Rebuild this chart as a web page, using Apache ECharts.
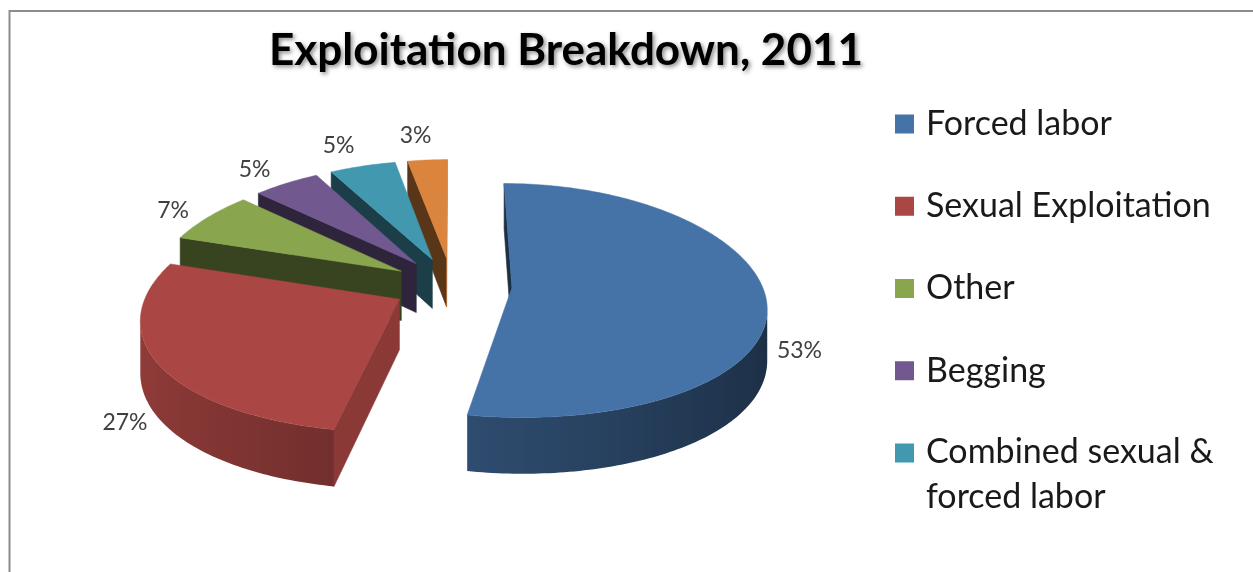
<!DOCTYPE html>
<html>
<head>
<meta charset="utf-8">
<title>Exploitation Breakdown, 2011</title>
<script src="https://cdn.jsdelivr.net/npm/echarts@6/dist/echarts.min.js"></script>
<style>
  html, body { margin: 0; padding: 0; background: #ffffff; }
  #chart { width: 1253px; height: 572px; }
</style>
</head>
<body>
<div id="chart"></div>
<script>
// ---- data -------------------------------------------------------------
const categories = ['Forced labor', 'Sexual Exploitation', 'Other', 'Begging',
                    'Combined sexual & forced labor', 'Unspecified'];
const shares = [53, 27, 7, 5, 5, 3];           // percent of cases
const legendNames = categories.slice(0, 5);    // entries that fit in the legend box
const legendLines = [['Forced labor'], ['Sexual Exploitation'], ['Other'], ['Begging'],
                     ['Combined sexual &', 'forced labor']];
const sliceColors = ['#4572A7', '#AA4643', '#89A54E', '#71588F', '#4198AF', '#DB843D'];

// ---- 3D pie geometry (screen pixels / unit radius) -------------------
const PIE = {
  cx: 452, cy: 285,        // projected centre of the un-exploded pie
  r: 250,                  // radius in pixels
  sinE: 0.46, cosE: 0.888, // viewing elevation
  depth: 0.225,            // thickness relative to radius
  explode: 0.24,           // slice offset relative to radius
  px: 0.15, py: 0.11       // perspective strength (horizontal / vertical)
};
const LABEL_SIZE = 23;
const LEGEND_SIZE = 34;
const LEGEND_LINE = 44;

const total = shares.reduce((a, b) => a + b, 0);
const startAngles = [];
(function () {
  let acc = 0;
  shares.forEach(v => { startAngles.push(acc / total * 2 * Math.PI); acc += v; });
})();

// back-to-front drawing order of slices
const depthRank = (function () {
  const keys = shares.map((v, i) => {
    const am = startAngles[i] + v / total * Math.PI;
    return -Math.cos(am) * (PIE.explode + 0.5);
  });
  const order = keys.map((k, i) => i).sort((a, b) => keys[a] - keys[b]);
  const rank = [];
  order.forEach((idx, r) => { rank[idx] = r; });
  return rank;
})();

function proj(X, Z, Y) {
  const fx = 1 / (1 - PIE.px * Z);
  const fy = 1 / (1 - PIE.py * Z);
  return [PIE.cx + PIE.r * X * fx, PIE.cy + PIE.r * (Z * PIE.sinE - Y * PIE.cosE) * fy];
}

function signedArea(pts) {
  let s = 0;
  for (let k = 0; k < pts.length; k++) {
    const p = pts[k], q = pts[(k + 1) % pts.length];
    s += p[0] * q[1] - q[0] * p[1];
  }
  return s;
}

function shade(hex, f) {
  const n = parseInt(hex.slice(1), 16);
  const c = [(n >> 16) & 255, (n >> 8) & 255, n & 255]
    .map(v => Math.max(0, Math.min(255, Math.round(v * f))));
  return 'rgb(' + c.join(',') + ')';
}

// brightness of the curved wall at angle t (light from the left)
const wallLight = t => 0.63 - 0.22 * Math.sin(t);

function renderSlice(i, value) {
  const base = sliceColors[i];
  const a0 = startAngles[i];
  const sweep = value / total * 2 * Math.PI;
  const a1 = a0 + sweep;
  const am = a0 + sweep / 2;
  const ox = PIE.explode * Math.sin(am);
  const oz = -PIE.explode * Math.cos(am);
  const H = -PIE.depth;
  const pt = (t, rr, Y) => proj(ox + rr * Math.sin(t), oz - rr * Math.cos(t), Y);
  const zBase = depthRank[i] * 1000;
  const kids = [];

  const face = (pts, color, z2) => {
    if (signedArea(pts) < 0) {
      kids.push({ type: 'polygon', shape: { points: pts },
                  style: { fill: color, stroke: color, lineWidth: 0.6 }, z2: z2 });
    }
  };

  // radial side faces
  face([pt(a0, 0, 0), pt(a0, 1, 0), pt(a0, 1, H), pt(a0, 0, H)],
       shade(base, -Math.cos(a0) > 0 ? 0.82 : 0.41), zBase + 1);
  face([pt(a1, 1, 0), pt(a1, 0, 0), pt(a1, 0, H), pt(a1, 1, H)],
       shade(base, Math.cos(a1) > 0 ? 0.82 : 0.41), zBase + 1);

  // curved outer wall: visible runs drawn as single shaded polygons
  const n = Math.max(2, Math.ceil(sweep / (Math.PI / 180)));
  const ts = [];
  for (let k = 0; k <= n; k++) ts.push(a0 + sweep * k / n);
  const vis = [];
  for (let k = 0; k < n; k++) {
    vis.push(signedArea([pt(ts[k], 1, 0), pt(ts[k + 1], 1, 0), pt(ts[k + 1], 1, H), pt(ts[k], 1, H)]) < 0);
  }
  let k = 0;
  while (k < n) {
    if (!vis[k]) { k++; continue; }
    let e = k;
    while (e < n && vis[e]) e++;
    const topPts = [], botPts = [];
    for (let j = k; j <= e; j++) { topPts.push(pt(ts[j], 1, 0)); botPts.push(pt(ts[j], 1, H)); }
    const poly = topPts.concat(botPts.reverse());
    const xs = poly.map(p => p[0]);
    const minX = Math.min.apply(null, xs), maxX = Math.max.apply(null, xs);
    let fill;
    if (maxX - minX < 1) {
      fill = shade(base, wallLight(ts[k]));
    } else {
      const stops = [];
      for (let j = k; j <= e; j++) {
        stops.push({ offset: (pt(ts[j], 1, 0)[0] - minX) / (maxX - minX), color: shade(base, wallLight(ts[j])) });
      }
      stops.sort((a, b) => a.offset - b.offset);
      stops.forEach(s => { s.offset = Math.max(0, Math.min(1, s.offset)); });
      fill = new echarts.graphic.LinearGradient(0, 0, 1, 0, stops);
    }
    kids.push({ type: 'polygon', shape: { points: poly }, style: { fill: fill }, z2: zBase + 2 });
    k = e;
  }

  // top surface
  const top = [pt(a0, 0, 0)];
  for (let j = 0; j <= n; j++) top.push(pt(ts[j], 1, 0));
  kids.push({ type: 'polygon', shape: { points: top },
              style: { fill: base, stroke: base, lineWidth: 0.5 }, z2: zBase + 3 });

  // percentage label outside the slice
  const front = Math.cos(am) < 0;
  const P = pt(am, 1, front ? H : 0);
  const A = pt(am, 0, 0), T = pt(am, 1, 0);
  let ux = T[0] - A[0], uy = T[1] - A[1];
  const len = Math.hypot(ux, uy) || 1;
  ux /= len; uy /= len;
  const txt = Math.round(value / total * 100) + '%';
  const w = txt.length * 0.62 * LABEL_SIZE, h = LABEL_SIZE * 0.8;
  const gap = front ? 12 : 16, shiftX = front ? 0 : -6;
  kids.push({
    type: 'text', z2: 9000,
    x: P[0] + ux * (gap + w / 2) + shiftX, y: P[1] + uy * (gap + h / 2),
    style: { text: txt, align: 'center', verticalAlign: 'middle', fill: '#404040',
             font: LABEL_SIZE + 'px Lato' }
  });

  return { type: 'group', children: kids };
}

// Legend rows: single-line rows get a tall line box so that a two-line
// entry (first line tall, second line thin) keeps its first line on the marker.
const ROW_BOX = 2 * LEGEND_LINE + 1;
const legendText = { fontFamily: 'Lato', fontSize: LEGEND_SIZE, color: '#1a1a1a' };

const chart = echarts.init(document.getElementById('chart'), null, { renderer: 'canvas' });
chart.setOption({
  animation: false,
  backgroundColor: '#ffffff',
  title: {
    text: 'Exploitation Breakdown, 2011',
    left: 561, top: 24, textAlign: 'center',
    textStyle: {
      fontFamily: 'Lato', fontWeight: 'bold', fontSize: 44, color: '#000000',
      textShadowColor: 'rgba(0,0,0,0.45)', textShadowBlur: 4,
      textShadowOffsetX: 2, textShadowOffsetY: 2
    }
  },
  legend: {
    orient: 'vertical', left: 895, top: 124 - ROW_BOX / 2, height: 540, padding: 0,
    itemWidth: 19, itemHeight: 19, itemGap: 82.25 - ROW_BOX, icon: 'rect',
    selectedMode: false,
    data: legendNames,
    formatter: name => {
      const lines = legendLines[legendNames.indexOf(name)];
      if (lines.length === 1) return lines[0];
      return '{first|' + lines[0] + '}\n{rest|' + lines.slice(1).join(' ') + '}';
    },
    textStyle: Object.assign({}, legendText, {
      lineHeight: ROW_BOX, padding: [0, 0, 0, 7],
      rich: {
        first: Object.assign({}, legendText, { lineHeight: 2 * LEGEND_LINE }),
        rest: Object.assign({}, legendText, { lineHeight: 1 })
      }
    })
  },
  graphic: [{
    type: 'rect', silent: true,
    shape: { x: 9.5, y: 11, width: 1400, height: 700 },
    style: { fill: 'none', stroke: '#8c8c8c', lineWidth: 2 }
  }],
  series: categories.map((name, i) => ({
    type: 'custom',
    name: name,
    coordinateSystem: 'none',
    silent: true,
    itemStyle: { color: sliceColors[i] },
    data: [shares[i]],
    renderItem: (params, api) => renderSlice(i, api.value(0))
  }))
});
</script>
</body>
</html>
